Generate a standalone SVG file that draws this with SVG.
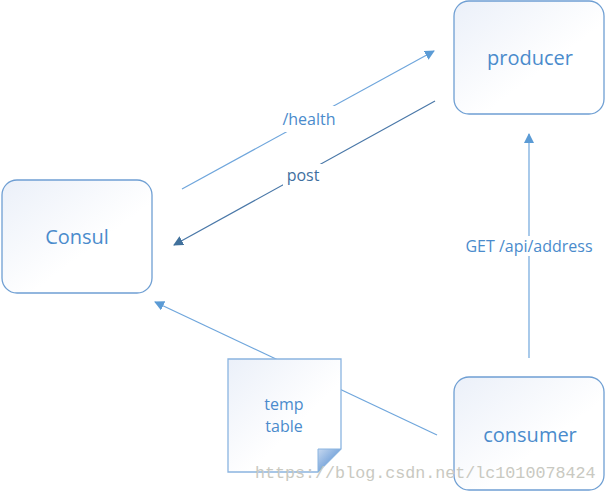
<svg xmlns="http://www.w3.org/2000/svg" width="606" height="492" viewBox="0 0 606 492">
<defs>
<linearGradient id="boxg" x1="0" y1="0" x2="1" y2="1">
<stop offset="0" stop-color="#ebf0f9"/>
<stop offset="0.6" stop-color="#ffffff"/>
</linearGradient>
<linearGradient id="foldg" x1="0" y1="0" x2="1" y2="1">
<stop offset="0" stop-color="#c7d9f0"/>
<stop offset="1" stop-color="#3f7fcc"/>
</linearGradient>
<marker id="ah" viewBox="0 0 10 10" refX="9" refY="5" markerWidth="10" markerHeight="10" markerUnits="userSpaceOnUse" orient="auto">
<path d="M0,0 L10,5 L0,10 z" fill="#5b9bd5"/>
</marker>
<marker id="ahd" viewBox="0 0 10 10" refX="9" refY="5" markerWidth="10" markerHeight="10" markerUnits="userSpaceOnUse" orient="auto">
<path d="M0,0 L10,5 L0,10 z" fill="#41719c"/>
</marker>
</defs>
<style>
.box{fill:url(#boxg);stroke:#6f9fd3;stroke-width:1.3}
.lbl{font-family:"Open Sans","Noto Sans",sans-serif;font-size:20px;fill:#4a8bcc;text-anchor:middle}
.el{font-family:"Open Sans","Noto Sans",sans-serif;font-size:16px;fill:#4a8bcc;text-anchor:middle}
.ln{stroke:#6fa6dc;stroke-width:1.2;fill:none}
.lnd{stroke:#4a78a8;stroke-width:1.2;fill:none}
.wm{font-family:"Liberation Mono",monospace;font-size:16.7px;fill:#c9c9c1}
</style>
<rect width="606" height="492" fill="#ffffff"/>
<g id="connectors">
<line class="ln" x1="182" y1="189" x2="434" y2="51" marker-end="url(#ah)"/>
<line class="lnd" x1="435" y1="101" x2="174" y2="245" marker-end="url(#ahd)"/>
<line class="ln" x1="529" y1="358" x2="529" y2="134" marker-end="url(#ah)"/>
<line class="ln" x1="437" y1="435" x2="155" y2="302" marker-end="url(#ah)"/>
<rect x="281" y="106" width="56" height="26" fill="#ffffff"/>
<text class="el" x="309" y="125">/health</text>
<rect x="283" y="164" width="40" height="24" fill="#ffffff"/>
<text class="el" x="303" y="181" style="fill:#3f6f9f">post</text>
<rect x="462" y="236" width="134" height="20" fill="#ffffff"/>
<text class="el" x="529" y="252">GET /api/address</text>
</g>
<g id="consul">
<rect class="box" x="2" y="180" width="150" height="113" rx="15"/>
<text class="lbl" x="77" y="244">Consul</text>
</g>
<g id="producer">
<rect class="box" x="454" y="1" width="150" height="113" rx="15"/>
<text class="lbl" x="530" y="65">producer</text>
</g>
<g id="consumer">
<rect class="box" x="454" y="377" width="150" height="113" rx="15"/>
<text class="lbl" x="530" y="442">consumer</text>
</g>
<g id="temp-table">
<path class="box" d="M228,359 L341,359 L341,449 L318,472 L228,472 Z" style="stroke:#8ab4e0"/>
<path d="M318,449 L341,449 L318,472 Z" fill="url(#foldg)" stroke="#8ab4e0" stroke-width="1"/>
<text class="el" x="284" y="410">temp</text>
<text class="el" x="284" y="432">table</text>
</g>
<text class="wm" x="255" y="478">https://blog.csdn.net/lc1010078424</text>
</svg>
